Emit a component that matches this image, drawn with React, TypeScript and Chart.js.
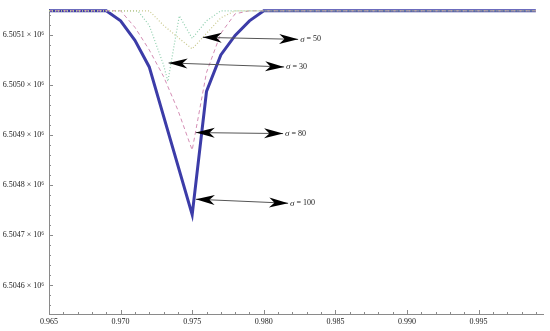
import React, { useEffect, useRef } from "react";
import { Chart, registerables } from "chart.js";

Chart.register(...registerables);

// ---- axis ranges & ticks ----
const xMin = 0.965;
const xMax = 0.9995;
const yMin = 6504543;
const yMax = 6505150;

const xTickValues = [0.965, 0.97, 0.975, 0.98, 0.985, 0.99, 0.995];
const xTickLabels = ["0.965", "0.970", "0.975", "0.980", "0.985", "0.990", "0.995"];
const yTickValues = [6504600, 6504700, 6504800, 6504900, 6505000, 6505100];
const yTickLabels = [
  "6.5046 × 10⁶",
  "6.5047 × 10⁶",
  "6.5048 × 10⁶",
  "6.5049 × 10⁶",
  "6.5050 × 10⁶",
  "6.5051 × 10⁶",
];
const xMinorStep = 0.001;
const yMinorStep = 20;

// ---- series (x, y) ----
const sigma100X = [0.965, 0.969, 0.97, 0.971, 0.972, 0.975, 0.976, 0.977, 0.978, 0.979, 0.98, 0.999];
const sigma100Y = [6505148, 6505148, 6505128, 6505089, 6505036, 6504741, 6504987, 6505060, 6505099, 6505128, 6505148, 6505148];

const sigma80X = [0.965, 0.97, 0.971, 0.972, 0.973, 0.974, 0.975, 0.976, 0.977, 0.978, 0.979, 0.999];
const sigma80Y = [6505148, 6505148, 6505115, 6505070, 6505017, 6504950, 6504870, 6505025, 6505103, 6505142, 6505148, 6505148];

const sigma30X = [0.965, 0.9712, 0.972, 0.973, 0.9733, 0.9741, 0.975, 0.976, 0.977, 0.999];
const sigma30Y = [6505148, 6505148, 6505119, 6505040, 6505007, 6505138, 6505093, 6505128, 6505148, 6505148];

const sigma50X = [0.965, 0.972, 0.973, 0.974, 0.975, 0.976, 0.977, 0.978, 0.999];
const sigma50Y = [6505148, 6505148, 6505119, 6505095, 6505072, 6505103, 6505134, 6505148, 6505148];

// ---- annotations (double-headed arrows) ----
const arrowLabels = ["σ = 50", "σ = 30", "σ = 80", "σ = 100"];
const arrowFromX = [0.97574, 0.97335, 0.97525, 0.97525];
const arrowFromY = [6505095, 6505044, 6504905, 6504772];
const arrowToX = [0.9824, 0.98142, 0.98135, 0.9817];
const arrowToY = [6505091, 6505036, 6504903, 6504764];

const FONT = "'Liberation Serif', 'DejaVu Serif', serif";

function zip(xs: number[], ys: number[]) {
  return xs.map((x, i) => ({ x, y: ys[i] }));
}

function drawHead(ctx: CanvasRenderingContext2D, tx: number, ty: number, fx: number, fy: number) {
  const L = 19;
  const W = 5;
  const dx = fx - tx;
  const dy = fy - ty;
  const d = Math.hypot(dx, dy) || 1;
  const ux = dx / d;
  const uy = dy / d;
  const px = -uy;
  const py = ux;
  ctx.beginPath();
  ctx.moveTo(tx, ty);
  ctx.lineTo(tx + ux * L + px * W, ty + uy * L + py * W);
  ctx.lineTo(tx + ux * L * 0.72, ty + uy * L * 0.72);
  ctx.lineTo(tx + ux * L - px * W, ty + uy * L - py * W);
  ctx.closePath();
  ctx.fill();
}

const decorPlugin = {
  id: "decor",
  afterDatasetsDraw(chart: any) {
    const { ctx, chartArea, scales } = chart;
    const xs = scales.x;
    const ys = scales.y;
    ctx.save();
    // inward tick marks
    ctx.strokeStyle = "#8a8a8a";
    ctx.lineWidth = 1;
    ctx.beginPath();
    const nX = Math.round((xMax - xMin) / xMinorStep);
    for (let i = 0; i <= nX; i++) {
      const v = xMin + i * xMinorStep;
      if (v > xMax) break;
      const major = i % 5 === 0;
      const px = Math.round(xs.getPixelForValue(v)) + 0.5;
      ctx.moveTo(px, chartArea.bottom);
      ctx.lineTo(px, chartArea.bottom - (major ? 4 : 2));
    }
    const yStart = Math.ceil(yMin / yMinorStep) * yMinorStep;
    for (let v = yStart; v <= yMax; v += yMinorStep) {
      const major = v % 100 === 0;
      const py = Math.round(ys.getPixelForValue(v)) + 0.5;
      ctx.moveTo(chartArea.left, py);
      ctx.lineTo(chartArea.left + (major ? 4 : 2), py);
    }
    ctx.stroke();

    // arrows
    for (let i = 0; i < arrowLabels.length; i++) {
      const x1 = xs.getPixelForValue(arrowFromX[i]);
      const y1 = ys.getPixelForValue(arrowFromY[i]);
      const x2 = xs.getPixelForValue(arrowToX[i]);
      const y2 = ys.getPixelForValue(arrowToY[i]);
      ctx.strokeStyle = "#555";
      ctx.lineWidth = 1;
      ctx.beginPath();
      ctx.moveTo(x1, y1);
      ctx.lineTo(x2, y2);
      ctx.stroke();
      ctx.fillStyle = "#000";
      drawHead(ctx, x1, y1, x2, y2);
      drawHead(ctx, x2, y2, x1, y1);
      const parts = arrowLabels[i].split(" ");
      ctx.textBaseline = "middle";
      ctx.textAlign = "left";
      ctx.fillStyle = "#222";
      ctx.font = `italic 9px ${FONT}`;
      const sx = x2 + 2;
      ctx.fillText(parts[0], sx, y2);
      const w0 = ctx.measureText(parts[0]).width;
      ctx.font = `8px ${FONT}`;
      ctx.fillText(" " + parts.slice(1).join(" "), sx + w0, y2);
    }
    ctx.restore();
  },
};

export default function App() {
  const ref = useRef<HTMLCanvasElement | null>(null);

  useEffect(() => {
    document.body.style.margin = "0";
    const canvas = ref.current;
    if (!canvas) return;
    const chart = new Chart(canvas, {
      type: "line",
      data: {
        datasets: [
          {
            label: "σ = 50",
            data: zip(sigma50X, sigma50Y),
            borderColor: "#c9c98e",
            borderWidth: 1.2,
            borderDash: [1, 2],
            pointRadius: 0,
            tension: 0,
            clip: false,
          },
          {
            label: "σ = 30",
            data: zip(sigma30X, sigma30Y),
            borderColor: "#8fcfae",
            borderWidth: 1.2,
            borderDash: [1, 2],
            pointRadius: 0,
            tension: 0,
            clip: false,
          },
          {
            label: "σ = 80",
            data: zip(sigma80X, sigma80Y),
            borderColor: "#d48db4",
            borderWidth: 1,
            borderDash: [4, 3],
            pointRadius: 0,
            tension: 0,
            clip: false,
          },
          {
            label: "σ = 100",
            data: zip(sigma100X, sigma100Y),
            borderColor: "#3c3ca8",
            borderWidth: 3,
            pointRadius: 0,
            tension: 0,
            clip: false,
          },
        ],
      },
      options: {
        responsive: false,
        animation: false,
        layout: { padding: { top: 4, right: 7, left: 0, bottom: 0 } },
        plugins: { legend: { display: false }, tooltip: { enabled: false } },
        scales: {
          x: {
            type: "linear",
            min: xMin,
            max: xMax,
            afterBuildTicks: (s: any) => {
              s.ticks = xTickValues.map((v) => ({ value: v }));
            },
            afterFit: (s: any) => {
              s.height = 17;
            },
            ticks: {
              autoSkip: false,
              maxRotation: 0,
              padding: 3,
              color: "#222",
              font: { family: FONT, size: 8 },
              callback: (v: any) => {
                const i = xTickValues.findIndex((t) => Math.abs(t - v) < 1e-9);
                return i >= 0 ? xTickLabels[i] : "";
              },
            },
            grid: { display: false, drawTicks: false },
            border: { display: true, color: "#8a8a8a", width: 1 },
          },
          y: {
            type: "linear",
            min: yMin,
            max: yMax,
            afterBuildTicks: (s: any) => {
              s.ticks = yTickValues.map((v) => ({ value: v }));
            },
            afterFit: (s: any) => {
              s.width = 49;
            },
            ticks: {
              autoSkip: false,
              padding: 5,
              color: "#222",
              font: { family: FONT, size: 8 },
              callback: (v: any) => {
                const i = yTickValues.findIndex((t) => Math.abs(t - v) < 1e-6);
                return i >= 0 ? yTickLabels[i] : "";
              },
            },
            grid: { display: false, drawTicks: false },
            border: { display: true, color: "#8a8a8a", width: 1 },
          },
        },
      },
      plugins: [decorPlugin],
    } as any);
    return () => chart.destroy();
  }, []);

  return (
    <div style={{ position: "fixed", left: 0, top: 0, width: 550, height: 331, background: "#fff" }}>
      <canvas ref={ref} width={550} height={331} style={{ display: "block" }} />
    </div>
  );
}
